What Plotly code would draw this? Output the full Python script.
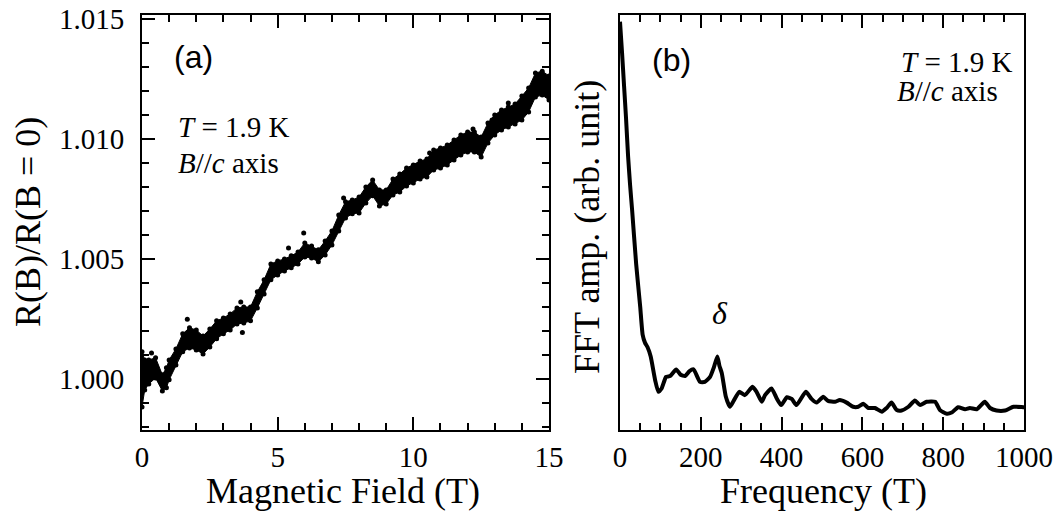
import plotly.graph_objects as go

# ---------------- Panel (a): R(B)/R(B=0) vs magnetic field ----------------
field_T = [0.0, 0.1, 0.25, 0.5, 0.75, 0.9, 1.0, 1.25, 1.5, 1.75, 2.0, 2.25, 2.5, 2.75,
           3.0, 3.25, 3.5, 3.75, 4.0, 4.25, 4.5, 4.75, 5.0, 5.25, 5.5, 5.75, 6.0, 6.25,
           6.5, 6.75, 7.0, 7.25, 7.5, 7.75, 8.0, 8.25, 8.5, 8.75, 9.0, 9.25, 9.5, 9.75,
           10.0, 10.25, 10.5, 10.75, 11.0, 11.25, 11.5, 11.75, 12.0, 12.25, 12.5, 12.75,
           13.0, 13.25, 13.5, 13.75, 14.0, 14.25, 14.5, 14.75, 15.0]
r_upper = [1.00113, 1.00079, 1.00079, 1.00088, 1.00017, 1.00046, 1.00079, 1.00125, 1.00188,
           1.00213, 1.00204, 1.00179, 1.00208, 1.00242, 1.00254, 1.00271, 1.00296, 1.00300,
           1.00300, 1.00363, 1.00413, 1.00479, 1.00492, 1.00500, 1.00513, 1.00529, 1.00567,
           1.00554, 1.00538, 1.00575, 1.00617, 1.00683, 1.00738, 1.00746, 1.00758, 1.00800,
           1.00829, 1.00788, 1.00788, 1.00833, 1.00854, 1.00879, 1.00892, 1.00908, 1.00917,
           1.00954, 1.00963, 1.00975, 1.00996, 1.01017, 1.01029, 1.01029, 1.01008, 1.01067,
           1.01100, 1.01121, 1.01133, 1.01146, 1.01179, 1.01213, 1.01275, 1.01283, 1.01263]
r_lower = [0.99883, 0.99954, 0.99979, 1.00004, 0.99950, 0.99963, 0.99996, 1.00058, 1.00113,
           1.00129, 1.00121, 1.00104, 1.00133, 1.00167, 1.00188, 1.00204, 1.00229, 1.00233,
           1.00242, 1.00296, 1.00354, 1.00413, 1.00433, 1.00450, 1.00463, 1.00479, 1.00508,
           1.00504, 1.00488, 1.00517, 1.00558, 1.00617, 1.00671, 1.00688, 1.00692, 1.00733,
           1.00763, 1.00721, 1.00729, 1.00767, 1.00779, 1.00804, 1.00817, 1.00833, 1.00842,
           1.00871, 1.00879, 1.00892, 1.00913, 1.00933, 1.00946, 1.00946, 1.00925, 1.00983,
           1.01017, 1.01038, 1.01050, 1.01063, 1.01079, 1.01113, 1.01175, 1.01183, 1.01163]
outlier_T = [0.35, 1.67, 3.64, 3.70, 5.40, 5.96, 7.43, 10.6, 12.2, 12.9, 13.5, 14.67]
outlier_R = [1.00108, 1.00249, 1.00321, 1.00193, 1.00546, 1.00608, 1.00754, 1.00942,
             1.01042, 1.01079, 1.01150, 1.01254]

# ---------------- Panel (b): FFT spectrum ----------------
freq_T = [0, 5, 10, 15, 20, 25, 30, 40, 50, 56, 62, 68, 76, 87, 95, 103, 114, 124, 139,
          150, 161, 172, 182, 198, 210, 223, 232, 241, 246, 252, 262, 272, 280, 295, 309,
          328, 338, 351, 359, 375, 388, 399, 413, 425, 437, 460, 474, 487, 503, 515, 532,
          544, 561, 577, 590, 602, 615, 631, 648, 660, 672, 685, 697, 714, 730, 743, 759,
          780, 792, 809, 821, 837, 854, 866, 883, 903, 916, 932, 953, 974, 998, 1000]
fft_amp = [98.4, 91, 83, 75, 66, 59, 53, 40, 29.7, 23, 21, 20, 17.7, 12, 9.2, 10, 12.8,
           13, 14.6, 13.3, 13, 14.2, 14.6, 11.6, 11.6, 12.8, 15, 17.7, 15.5, 13.7, 8, 5.6,
           6.8, 9.2, 8.4, 10.4, 9.2, 6.8, 8.4, 10, 7.6, 6, 7.9, 7.5, 6, 9.2, 7.5, 6.6, 8,
           7, 6.8, 7.2, 6.6, 5.6, 5.6, 6.3, 5.3, 5.3, 4.4, 5.3, 6.6, 4.8, 4.7, 5.6, 7.1,
           6, 6.8, 6.8, 4.8, 3.9, 4.2, 5.5, 5, 5.3, 5, 6.8, 5.3, 4.7, 4.7, 5.6, 5.5, 5.5]

a_xticks = [0, 5, 10, 15]
a_yticks = [1.000, 1.005, 1.010, 1.015]
b_xticks = [0, 200, 400, 600, 800, 1000]

W, H = 1062, 522
def px(x):
    return x / W
def py(y):
    return 1 - y / H

SERIF = "Liberation Serif"
SANS = "Liberation Sans"

fig = go.Figure()
fig.add_trace(go.Scatter(x=field_T, y=r_lower, mode="lines+markers",
                         line=dict(color="black", width=1),
                         marker=dict(color="black", size=5),
                         xaxis="x", yaxis="y", showlegend=False))
fig.add_trace(go.Scatter(x=field_T, y=r_upper, mode="lines+markers", fill="tonexty",
                         fillcolor="black", line=dict(color="black", width=1),
                         marker=dict(color="black", size=5),
                         xaxis="x", yaxis="y", showlegend=False))
fig.add_trace(go.Scatter(x=outlier_T, y=outlier_R, mode="markers",
                         marker=dict(color="black", size=5),
                         xaxis="x", yaxis="y", showlegend=False))
fig.add_trace(go.Scatter(x=freq_T, y=fft_amp, mode="lines",
                         line=dict(color="black", width=4, shape="spline", smoothing=0.5),
                         xaxis="x2", yaxis="y2", showlegend=False))

axis_common = dict(showline=True, linecolor="black", linewidth=2, mirror="allticks",
                   ticks="inside", tickcolor="black", tickwidth=2, ticklen=13,
                   showgrid=False, zeroline=False, automargin=False,
                   tickfont=dict(family=SERIF, size=29, color="black"))

fig.update_layout(
    template="none",
    width=W, height=H,
    margin=dict(l=0, r=0, t=0, b=0, autoexpand=False),
    paper_bgcolor="white", plot_bgcolor="white",
    xaxis=dict(domain=[px(142), px(549)], range=[0, 15], anchor="y",
               tickvals=a_xticks, ticklabelstandoff=0,
               minor=dict(dtick=1, ticks="inside", ticklen=7, tickwidth=1.5, tickcolor="black"),
               **axis_common),
    yaxis=dict(domain=[py(430), py(15)], range=[0.99787, 1.01517], anchor="x",
               tickvals=a_yticks, tickformat=".3f", ticklabelstandoff=10,
               minor=dict(dtick=0.001, ticks="inside", ticklen=7, tickwidth=1.5, tickcolor="black"),
               **axis_common),
    xaxis2=dict(domain=[px(620), px(1024)], range=[0, 1000], anchor="y2",
                tickvals=b_xticks, ticklabelstandoff=0,
                minor=dict(dtick=50, ticks="inside", ticklen=7, tickwidth=1.5, tickcolor="black"),
                **axis_common),
    yaxis2=dict(domain=[py(430), py(15)], range=[0, 100], anchor="x2",
                showline=True, linecolor="black", linewidth=2, mirror=True, automargin=False,
                ticks="", showticklabels=False, showgrid=False, zeroline=False),
)

ann = []
def add(text, x, y, size, family=SERIF, angle=0, xanchor="center"):
    ann.append(dict(text=text, x=x, y=y, xref="paper", yref="paper", showarrow=False,
                    xanchor=xanchor, yanchor="middle", textangle=angle,
                    font=dict(family=family, size=size, color="black")))

add("R(B)/R(B = 0)", px(28), py(222), 36, angle=-90)
add("Magnetic Field (T)", px(343), py(491), 36)
add("FFT amp. (arb. unit)", px(587), py(227), 36, angle=-90)
add("Frequency (T)", px(823), py(491), 36)
add("(a)", px(172), py(57), 32, family=SANS, xanchor="left")
add("<i>T</i> = 1.9 K", px(176), py(127), 29, xanchor="left")
add("<i>B</i>//<i>c</i> axis", px(176), py(163), 29, xanchor="left")
add("(b)", px(650), py(60), 32, family=SANS, xanchor="left")
add("<i>T</i> = 1.9 K", px(1014), py(62), 29, xanchor="right")
add("<i>B</i>//<i>c</i> axis", px(1000), py(91), 29, xanchor="right")
add("<i>δ</i>", px(720), py(313), 32)
fig.update_layout(annotations=ann)

fig.write_html("out.html", config={"displayModeBar": False},
               post_script="document.body.style.margin='0';")
